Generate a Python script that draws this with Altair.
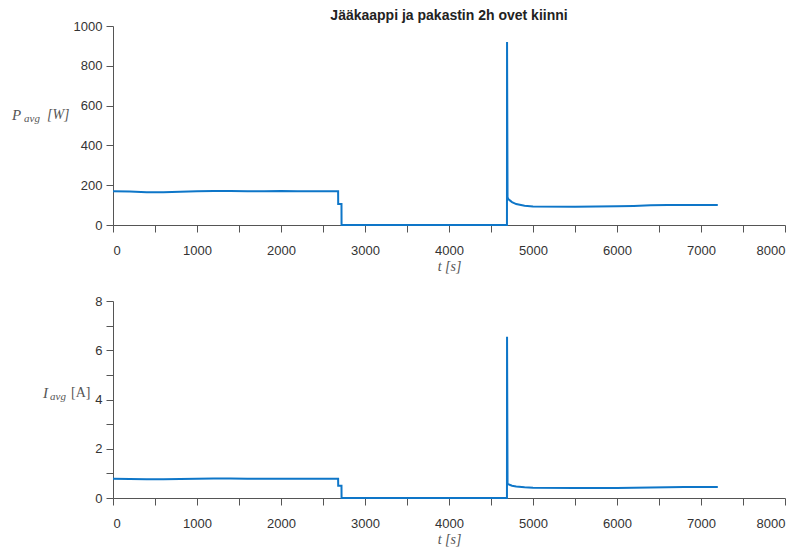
import altair as alt
import pandas as pd

t_s = [0, 200, 400, 600, 800, 1000, 1200, 1400, 1600, 1800, 2000, 2200, 2400, 2600,
       2680, 2681, 2720, 2721, 3000, 3500, 4000, 4500, 4690, 4691, 4697, 4705,
       4750, 4800, 4900, 5000, 5500, 6000, 6200, 6400, 6600, 6800, 7000, 7200]
p_avg = [170, 168, 165, 165, 167, 169, 171, 171, 170, 170, 171, 170, 170, 170,
         170, 105, 105, 0, 0, 0, 0, 0, 0, 920, 140, 130,
         115, 105, 97, 93, 92, 94, 96, 99, 100, 101, 101, 100]
i_avg = [0.78, 0.77, 0.76, 0.76, 0.77, 0.78, 0.79, 0.79, 0.78, 0.78, 0.78, 0.78, 0.78, 0.78,
         0.78, 0.50, 0.50, 0, 0, 0, 0, 0, 0, 6.55, 0.60, 0.56,
         0.50, 0.47, 0.44, 0.42, 0.41, 0.41, 0.42, 0.43, 0.44, 0.45, 0.45, 0.45]

x_ticks = list(range(0, 8001, 500))
p_ticks = list(range(0, 1001, 200))
i_ticks = list(range(0, 9))

df = pd.DataFrame({"t": t_s, "P": p_avg, "I": i_avg})

LINE = "#0E76C8"
SERIF = "Liberation Serif"
AX_COLOR = "#555555"

x_enc = alt.X("t:Q", scale=alt.Scale(domain=[0, 8000], nice=False),
              axis=alt.Axis(values=x_ticks, title="t [s]",
                            labelExpr="datum.value % 1000 == 0 ? datum.label : ''",
                            format="d"))

W = 672

def label_layer(parts, yrel):
    layers = []
    for txt, x, dy, size, style in parts:
        layers.append(
            alt.Chart(df).mark_text(text=txt, align="left", baseline="middle",
                                    font=SERIF, fontSize=size, fontStyle=style,
                                    color="#555555", clip=False)
            .encode(x=alt.value(x), y=alt.value(yrel + dy))
            .transform_filter("datum.t == 0")
        )
    return layers

top_line = alt.Chart(df).mark_line(color=LINE, strokeWidth=2).encode(
    x=x_enc,
    y=alt.Y("P:Q", scale=alt.Scale(domain=[0, 1000], nice=False),
            axis=alt.Axis(values=p_ticks, title=None, format="d")),
)
top_lab = label_layer([("P", -101, 0, 15, "italic"),
                       ("avg", -89, 4, 11, "italic"),
                       ("[W]", -66, 0, 14, "italic")], 89)
top = alt.layer(top_line, *top_lab).properties(
    width=W, height=199,
    title=alt.TitleParams("Jääkaappi ja pakastin 2h ovet kiinni", font="Liberation Sans",
                          fontSize=14, fontWeight="bold", color="#222222",
                          anchor="middle", frame="group", offset=-3))

bot_line = alt.Chart(df).mark_line(color=LINE, strokeWidth=2).encode(
    x=x_enc,
    y=alt.Y("I:Q", scale=alt.Scale(domain=[0, 8], nice=False),
            axis=alt.Axis(values=i_ticks, title=None, format="d",
                          labelExpr="datum.value % 2 == 0 ? datum.label : ''")),
)
bot_lab = label_layer([("I", -70, 0, 15, "italic"),
                       ("avg", -63, 4, 11, "italic"),
                       ("[A]", -42, 0, 14, "normal")], 92)
bot = alt.layer(bot_line, *bot_lab).properties(width=W, height=197)

chart = alt.vconcat(top, bot, spacing=22).properties(
    padding={"left": 4, "top": 1, "right": 5, "bottom": 5}
).configure_view(stroke=None).configure_axis(
    grid=False, domainColor=AX_COLOR, tickColor=AX_COLOR, labelColor="#333333",
    labelFont="Liberation Sans", labelFontSize=13, tickSize=7,
    titleFont=SERIF, titleFontStyle="italic", titleFontWeight="normal",
    titleFontSize=14, titleColor="#555555", titlePadding=2, domainWidth=1,
).configure_axisX(labelPadding=12).configure_axisY(labelPadding=4)

chart.save("out.html", embed_options={"renderer": "svg", "actions": False})
